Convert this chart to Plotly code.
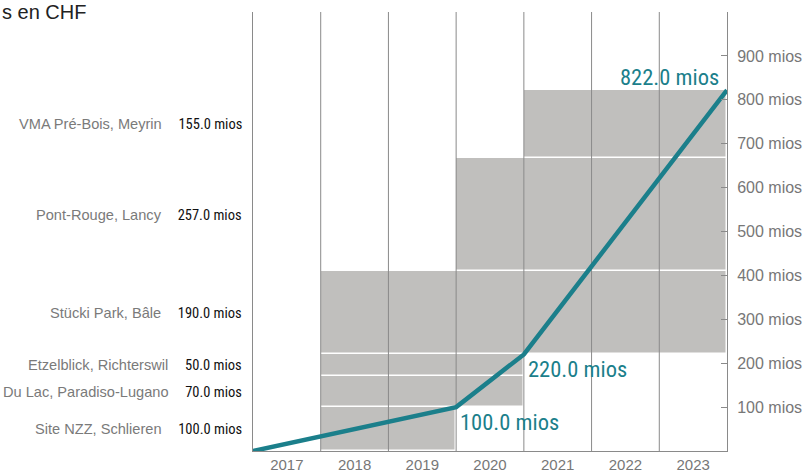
import plotly.graph_objects as go

projects = ["Site NZZ, Schlieren", "Du Lac, Paradiso-Lugano", "Etzelblick, Richterswil",
            "Stücki Park, Bâle", "Pont-Rouge, Lancy", "VMA Pré-Bois, Meyrin"]
values = [100.0, 70.0, 50.0, 190.0, 257.0, 155.0]
start_year = [2018, 2018, 2018, 2018, 2020, 2021]
end_year = [2019, 2020, 2020, 2023, 2023, 2023]
years = [2017, 2018, 2019, 2020, 2021, 2022, 2023]
y_ticks = [100, 200, 300, 400, 500, 600, 700, 800, 900]

TEAL = "#1b7f8b"
GRAY_BAR = "#c0bfbd"
GRID = "#8a8a8a"
COND = "Roboto Condensed, Liberation Sans Narrow, Arial Narrow, sans-serif"
SANS = "Liberation Sans, Arial, sans-serif"

bases = []
acc = 0
for v in values:
    bases.append(acc)
    acc += v

fig = go.Figure()

# project bars
for p, v, b, s, e in zip(projects, values, bases, start_year, end_year):
    fig.add_trace(go.Bar(
        x=[(s + e) / 2], y=[v], base=[b], width=[e - s + 1],
        marker=dict(color=GRAY_BAR, line=dict(color="white", width=1.5)),
        showlegend=False, hoverinfo="skip"))

# vertical year separators above bars
gx, gy = [], []
for yr in years[1:]:
    gx += [yr - 0.5, yr - 0.5, None]
    gy += [0, 1000, None]
fig.add_trace(go.Scatter(x=gx, y=gy, mode="lines", line=dict(color=GRID, width=1),
                         showlegend=False, hoverinfo="skip"))

# cumulative line by completion year
comp_years = sorted(set(end_year))
lx = [years[0] - 0.5]
ly = [0]
for cy in comp_years:
    lx.append(cy + 0.5)
    ly.append(sum(v for v, e in zip(values, end_year) if e <= cy))
fig.add_trace(go.Scatter(x=lx, y=ly, mode="lines", line=dict(color=TEAL, width=4.5),
                         showlegend=False, hoverinfo="skip"))

annotations = []
for i, (cx, cyv) in enumerate(zip(lx[1:], ly[1:])):
    last = i == len(ly) - 2
    annotations.append(dict(
        x=cx, y=cyv, xref="x", yref="y", text=f"{cyv:.1f} mios", showarrow=False,
        xanchor="right" if last else "left", yanchor="bottom" if last else "top",
        xshift=-6 if last else 2, yshift=-2 if last else 0,
        font=dict(family=COND, size=22.5, color=TEAL)))

for p, v, b in zip(projects, values, bases):
    annotations.append(dict(
        x=0, y=b + v / 2, xref="paper", yref="y", showarrow=False, xanchor="right",
        xshift=-9,
        text=(f"<span style='font-family:Liberation Sans;font-size:14.6px;color:#7a7a7a'>{p}</span>"
              f"<span style='font-family:Liberation Sans;font-size:15px'>&nbsp;&nbsp;&nbsp;&nbsp;</span>"
              f"<span style='color:#111'>{v:.1f} mios</span>"),
        font=dict(family=COND, size=14.5, color="#111")))

annotations.append(dict(x=0, y=1, xref="paper", yref="paper", xanchor="left", yanchor="top",
                        text="s en CHF", showarrow=False, xshift=-253, yshift=13,
                        font=dict(family=SANS, size=20, color="#222")))

fig.update_layout(
    width=808, height=475, margin=dict(l=253, r=81, t=12, b=24),
    paper_bgcolor="white", plot_bgcolor="white", barmode="overlay", bargap=0,
    annotations=annotations,
    xaxis=dict(range=[years[0] - 0.5, years[-1] + 0.5], tickvals=years,
               ticktext=[str(y) for y in years], showgrid=False, zeroline=False,
               showline=True, linecolor=GRID, linewidth=1, ticks="", automargin=False,
               tickfont=dict(family=SANS, size=15, color="#777")),
    yaxis=dict(range=[0, 1000], side="right", tickvals=y_ticks,
               ticktext=[f"{t} mios" for t in y_ticks], showgrid=False, zeroline=False,
               showline=True, mirror=True, linecolor=GRID, linewidth=1, automargin=False,
               ticks="inside", ticklen=6, tickcolor=GRID, ticklabelstandoff=6,
               tickfont=dict(family=SANS, size=16, color="#777")),
)

fig.write_html("out.html")
